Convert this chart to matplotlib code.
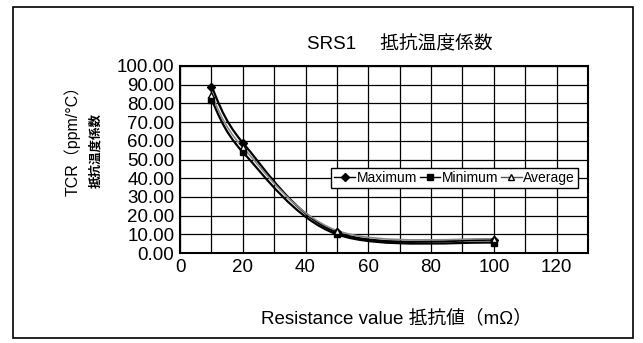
import numpy as np
import matplotlib.pyplot as plt
from matplotlib.path import Path
from matplotlib.patches import PathPatch, Rectangle
from matplotlib.lines import Line2D

plt.rcParams['font.family'] = ['Liberation Sans', 'Noto Sans CJK JP', 'DejaVu Sans']

resistance = [10, 20, 50, 100]
tcr_max = [89.0, 59.0, 11.0, 7.0]
tcr_min = [82.0, 54.0, 10.0, 5.5]
tcr_avg = [84.5, 56.5, 12.0, 7.5]


def smooth_path(x, y):
    # Excel-like smoothed line: Catmull-Rom converted to cubic Bezier
    pts = np.column_stack([x, y]).astype(float)
    verts = [pts[0]]
    codes = [Path.MOVETO]
    n = len(pts)
    for i in range(n - 1):
        p0 = pts[i - 1] if i > 0 else pts[i]
        p1 = pts[i]
        p2 = pts[i + 1]
        p3 = pts[i + 2] if i + 2 < n else pts[i + 1]
        c1 = p1 + (p2 - p0) / 6.0
        c2 = p2 - (p3 - p1) / 6.0
        verts += [c1, c2, p2]
        codes += [Path.CURVE4] * 3
    return Path(verts, codes)


fig = plt.figure(figsize=(6.43, 3.43), dpi=100)
fig.patches.append(Rectangle((13 / 643, 5 / 343), 620 / 643, 331 / 343,
                             transform=fig.transFigure, fill=False,
                             edgecolor='black', linewidth=1.2))

ax = fig.add_axes([180 / 643, 90 / 343, 408 / 643, 187 / 343])

series = [
    (tcr_max, 'black', 1.6, 'D', 'black', 'Maximum'),
    (tcr_min, 'black', 1.6, 's', 'black', 'Minimum'),
    (tcr_avg, '#888888', 1.2, '^', 'white', 'Average'),
]
handles = []
for vals, col, lw, mk, mfc, name in series:
    ax.add_patch(PathPatch(smooth_path(resistance, vals), facecolor='none',
                           edgecolor=col, linewidth=lw, zorder=3))
    ax.plot(resistance, vals, linestyle='none', marker=mk, markersize=4.5,
            markerfacecolor=mfc, markeredgecolor='black', zorder=4)
    handles.append(Line2D([], [], color='black' if name != 'Average' else '#555555',
                          linewidth=1.0, marker=mk, markersize=4,
                          markerfacecolor=mfc, markeredgecolor='black', label=name))

ax.set_xlim(0, 130)
ax.set_ylim(0, 100)
ax.set_xticks(np.arange(0, 121, 20))
ax.set_xticks(np.arange(10, 131, 10), minor=True)
ax.set_yticks(np.arange(0, 101, 10))
ax.set_yticklabels([f'{v:.2f}' for v in np.arange(0, 101, 10)])
ax.grid(True, which='both', color='black', linewidth=0.9)
ax.tick_params(which='both', length=0)
ax.tick_params(axis='y', labelsize=13.5, pad=4)
ax.tick_params(axis='x', labelsize=13.5, pad=4)
for s in ax.spines.values():
    s.set_linewidth(1.5)

# title and axis titles sit a little right of the plot centre in the original
fig.text(400 / 643, 1 - 45 / 343, 'SRS1　 抵抗温度係数', fontsize=13.5,
         ha='center', va='center')
fig.text(396 / 643, 1 - 318 / 343, 'Resistance value 抵抗値（mΩ）', fontsize=13.5,
         ha='center', va='center')
fig.text(72 / 643, 1 - 137 / 343, 'TCR（ppm/°C）', rotation=90, fontsize=11.5,
         ha='center', va='center')
fig.text(96 / 643, 1 - 150 / 343, '抵抗温度係数', rotation=90, fontsize=9,
         fontweight='bold', ha='center', va='center')

ax.legend(handles=handles, loc='center right', bbox_to_anchor=(0.975, 0.40),
          ncol=3, fontsize=10, handlelength=1.5, handletextpad=0.1,
          columnspacing=0.2, borderpad=0.2, borderaxespad=0, frameon=True,
          fancybox=False, edgecolor='black', framealpha=1)

fig.savefig('out.png', dpi=100)
